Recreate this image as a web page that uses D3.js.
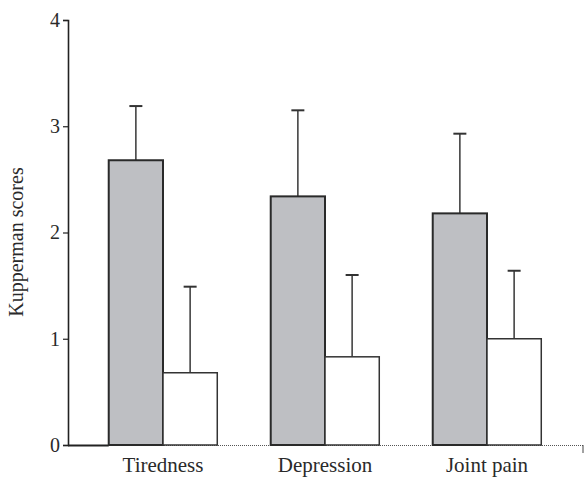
<!DOCTYPE html>
<html>
<head>
<meta charset="utf-8">
<script src="https://cdnjs.cloudflare.com/ajax/libs/d3/7.8.5/d3.min.js"></script>
<style>
  body { margin: 0; background: #fff; }
  text { font-family: "Liberation Serif", "DejaVu Serif", serif; fill: #2a2a2a; }
</style>
</head>
<body>
<div id="chart"></div>
<script>
// data
var categories = ["Tiredness", "Depression", "Joint pain"];
var seriesNames = ["before", "after"];
var meanBefore = [2.68, 2.34, 2.18];
var errBefore = [3.19, 3.15, 2.93];
var meanAfter = [0.68, 0.83, 1.00];
var errAfter = [1.49, 1.60, 1.64];
var yTicks = [0, 1, 2, 3, 4];

var width = 584, height = 477;
var x0 = 68, yTop = 20, yBottom = 445, xEnd = 583;

var svg = d3.select("#chart").append("svg")
  .attr("width", width)
  .attr("height", height);

var y = d3.scaleLinear().domain([0, 4]).range([yBottom, yTop]);

var x = d3.scaleBand()
  .domain(categories)
  .range([82, 568])
  .paddingInner(0.33)
  .paddingOuter(0.165);

var xs = d3.scaleBand()
  .domain(seriesNames)
  .range([0, x.bandwidth()]);

var rows = categories.map(function(c, i) {
  return [
    { cat: c, s: "before", v: meanBefore[i], e: errBefore[i] },
    { cat: c, s: "after", v: meanAfter[i], e: errAfter[i] }
  ];
});

// x baseline (dotted between bars)
svg.append("line")
  .attr("x1", x0).attr("x2", xEnd)
  .attr("y1", y(0) + 0.5).attr("y2", y(0) + 0.5)
  .attr("stroke", "#555")
  .attr("stroke-width", 1.2)
  .attr("stroke-dasharray", "1,1");
svg.append("line")
  .attr("x1", x0).attr("x2", x(categories[0]))
  .attr("y1", y(0) + 0.5).attr("y2", y(0) + 0.5)
  .attr("stroke", "#222")
  .attr("stroke-width", 2);
svg.append("line")
  .attr("x1", xEnd).attr("x2", xEnd)
  .attr("y1", y(0)).attr("y2", y(0) + 8)
  .attr("stroke", "#444")
  .attr("stroke-width", 1);

// bars
var groups = svg.selectAll(".grp")
  .data(rows)
  .enter().append("g")
  .attr("class", "grp")
  .attr("transform", function(d) { return "translate(" + x(d[0].cat) + ",0)"; });

var items = groups.selectAll(".item")
  .data(function(d) { return d; })
  .enter().append("g")
  .attr("class", "item");

// error bars (drawn first so the bar top covers the join)
items.append("line")
  .attr("x1", function(d) { return xs(d.s) + xs.bandwidth() / 2; })
  .attr("x2", function(d) { return xs(d.s) + xs.bandwidth() / 2; })
  .attr("y1", function(d) { return y(d.v); })
  .attr("y2", function(d) { return y(d.e); })
  .attr("stroke", "#444")
  .attr("stroke-width", 1.6);

items.append("line")
  .attr("x1", function(d) { return xs(d.s) + xs.bandwidth() / 2 - 6.5; })
  .attr("x2", function(d) { return xs(d.s) + xs.bandwidth() / 2 + 6.5; })
  .attr("y1", function(d) { return y(d.e); })
  .attr("y2", function(d) { return y(d.e); })
  .attr("stroke", "#333")
  .attr("stroke-width", 2);

items.append("rect")
  .attr("x", function(d) { return xs(d.s); })
  .attr("y", function(d) { return y(d.v); })
  .attr("width", xs.bandwidth())
  .attr("height", function(d) { return y(0) - y(d.v); })
  .attr("fill", function(d) { return d.s == "before" ? "#bebfc3" : "#fff"; })
  .attr("stroke", function(d) { return d.s == "before" ? "#2a2a2a" : "#333"; })
  .attr("stroke-width", function(d) { return d.s == "before" ? 2 : 1.5; });

// y axis
var yAxis = d3.axisLeft(y).tickValues(yTicks).tickSize(5).tickFormat(d3.format("d"));
var ga = svg.append("g")
  .attr("transform", "translate(" + x0 + ",0)")
  .call(yAxis);
ga.select(".domain").attr("stroke", "#222").attr("stroke-width", 1.6);
ga.selectAll(".tick line").attr("stroke", "#222").attr("stroke-width", 1.2);
ga.selectAll(".tick text")
  .attr("x", -8)
  .attr("font-size", 20)
  .attr("font-family", "Liberation Serif, serif")
  .attr("fill", "#333");

// category labels
svg.selectAll(".cat")
  .data(categories)
  .enter().append("text")
  .attr("class", "cat")
  .attr("x", function(d) { return x(d) + x.bandwidth() / 2; })
  .attr("y", 472)
  .attr("text-anchor", "middle")
  .attr("font-size", 21)
  .text(function(d) { return d; });

// y title
svg.append("text")
  .attr("transform", "translate(23,242) rotate(-90)")
  .attr("text-anchor", "middle")
  .attr("font-size", 20)
  .text("Kupperman scores");
</script>
</body>
</html>
